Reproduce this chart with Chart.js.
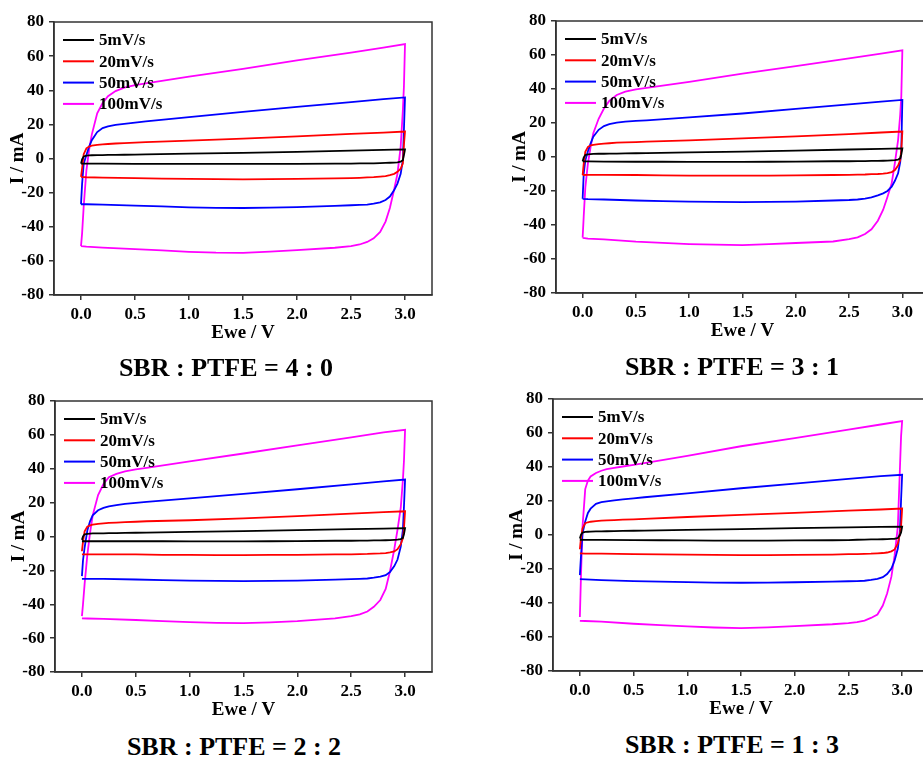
<!DOCTYPE html>
<html>
<head>
<meta charset="utf-8">
<title>CV curves - SBR : PTFE</title>
<script src="https://cdn.jsdelivr.net/npm/chart.js@4.4.0/dist/chart.umd.min.js"></script>
<style>
  html, body { margin: 0; padding: 0; background: #fff; width: 923px; height: 760px; overflow: hidden; position: relative; }
  .panel { position: absolute; }
  .ratio {
    position: absolute;
    transform: translate(-50%, -50%);
    font: bold 26px "Liberation Serif", "Times New Roman", serif;
    line-height: 1;
    white-space: nowrap;
    color: #000;
  }
</style>
</head>
<body>
<canvas id="cv40" class="panel" width="452" height="345" style="left:0px; top:0px"></canvas>
<canvas id="cv31" class="panel" width="447" height="343" style="left:502px; top:0px"></canvas>
<canvas id="cv22" class="panel" width="451" height="343" style="left:1px; top:379px"></canvas>
<canvas id="cv13" class="panel" width="450" height="344" style="left:499px; top:377px"></canvas>
<div id="title40" class="ratio" style="left:226px; top:368px"></div>
<div id="title31" class="ratio" style="left:732px; top:367px"></div>
<div id="title22" class="ratio" style="left:234px; top:747px"></div>
<div id="title13" class="ratio" style="left:732px; top:745px"></div>

<script>
// potentiel le long du cycle : balayage aller 0 -> 3 V (19 pts) puis retour 3 -> 0 V (23 pts)
const potential = [
  0, 0.01, 0.025, 0.05, 0.075, 0.1, 0.15, 0.2, 0.25, 0.32, 0.4, 0.5, 0.6, 1.0, 1.5, 2.0, 2.5, 2.8, 3.0,
  2.99, 2.98, 2.96, 2.93, 2.9, 2.86, 2.82, 2.77, 2.71, 2.65, 2.58, 2.5, 2.35, 2.0, 1.75, 1.5, 1.25, 1.0, 0.75, 0.5, 0.2, 0.05, 0.0
]
const scanRates = ["5mV/s", "20mV/s", "50mV/s", "100mV/s"]
const lineColors = ["#000000", "#ff0000", "#0000ff", "#ff00ff"]
const voltageTicks = [0, 0.5, 1, 1.5, 2, 2.5, 3]
const currentTicks = [-80, -60, -40, -20, 0, 20, 40, 60, 80]
const ratioTitles = ["SBR : PTFE = 4 : 0", "SBR : PTFE = 3 : 1", "SBR : PTFE = 2 : 2", "SBR : PTFE = 1 : 3"]

// courant (mA), SBR : PTFE = 4 : 0
const sbr40_5 = [-3, -0.5, 1.2, 1.7, 1.8, 1.9, 2, 2, 2.1, 2.1, 2.2, 2.3, 2.4, 2.9, 3.3, 3.9, 4.6, 5, 5.3,
  2, -1, -1.8, -2.3, -2.4, -2.5, -2.6, -2.7, -2.8, -2.9, -2.9, -3, -3, -3.1, -3.2, -3.2, -3.2, -3.2, -3.1, -3.1, -3, -3, -3]
const sbr40_20 = [-10.8, -6, 2.5, 6, 7, 7.5, 8, 8.3, 8.5, 8.8, 9, 9.3, 9.6, 10.5, 11.6, 13, 14.4, 15.2, 15.8,
  8, -2.9, -6, -7.8, -9, -9.8, -10.3, -10.6, -10.9, -11.1, -11.3, -11.5, -11.7, -12, -12.1, -12.2, -12.1, -12, -11.8, -11.5, -11.2, -11, -10.8]
const sbr40_50 = [-26.8, -15, -3, 2, 7, 10.7, 15.5, 17.8, 18.8, 19.7, 20.3, 21, 21.8, 24.3, 27.3, 30.2, 33, 34.8, 35.8,
  16.6, -1, -9, -14.7, -18.5, -22.3, -24.3, -25.7, -26.5, -27, -27.2, -27.4, -27.8, -28.5, -28.8, -29, -28.9, -28.6, -28.1, -27.6, -27, -26.8, -26.8]
const sbr40_100 = [-51.4, -44, -28, -7, 5, 14, 26.5, 32.5, 36.5, 39.5, 41.5, 43, 44, 48, 52.5, 57.5, 62, 65, 67,
  42, 28, 7, -9, -18, -29, -37, -43, -46.8, -48.9, -50.4, -51.4, -52.3, -53.7, -54.6, -55.3, -55.2, -54.7, -53.9, -53.1, -52.2, -51.7, -51.4]

// SBR : PTFE = 3 : 1
const sbr31_5 = [-2.5, -0.3, 1.2, 1.6, 1.7, 1.8, 1.9, 1.9, 2, 2, 2.1, 2.2, 2.3, 2.7, 3.2, 3.8, 4.4, 4.8, 5.1,
  1.5, -0.8, -1.5, -1.9, -2, -2.1, -2.2, -2.3, -2.3, -2.4, -2.4, -2.5, -2.5, -2.7, -2.8, -2.9, -2.9, -2.9, -2.8, -2.8, -2.7, -2.6, -2.5]
const sbr31_20 = [-10.6, -4, 3.1, 6, 6.8, 7.1, 7.6, 7.9, 8.1, 8.4, 8.6, 8.8, 9, 9.8, 10.9, 12.1, 13.5, 14.4, 15,
  4, -1.8, -5, -7.7, -8.9, -9.5, -9.8, -10, -10.1, -10.3, -10.4, -10.5, -10.6, -10.8, -10.9, -11, -11, -10.9, -10.8, -10.6, -10.5, -10.5, -10.6]
const sbr31_50 = [-24.6, -10, -2, 3.5, 8, 12, 16, 18.2, 19.3, 20.2, 20.8, 21.2, 21.6, 23.3, 25.6, 28.3, 31, 32.6, 33.6,
  4, -3, -9.6, -14, -17.5, -20, -21.4, -22.6, -23.8, -24.5, -25, -25.3, -25.6, -26.2, -26.4, -26.5, -26.4, -26.3, -26, -25.6, -25, -24.8, -24.6]
const sbr31_100 = [-47.4, -35, -18, -3.5, 6, 14, 22.5, 28.5, 33, 36.5, 38.5, 39.8, 40.7, 44.2, 49, 53.5, 58, 60.8, 62.7,
  35.6, 25, 10, -3.5, -15.5, -23.5, -31, -37.5, -42.5, -45.3, -47.3, -48.3, -49.7, -50.6, -51.3, -51.8, -51.6, -51.2, -50.5, -49.8, -48.5, -48, -47.6]

// SBR : PTFE = 2 : 2
const sbr22_5 = [-2, 0, 1.3, 1.6, 1.7, 1.8, 1.9, 1.9, 2, 2, 2.1, 2.2, 2.3, 2.7, 3.2, 3.8, 4.3, 4.7, 4.9,
  1.5, -0.8, -1.5, -1.9, -2, -2.1, -2.2, -2.3, -2.3, -2.4, -2.4, -2.5, -2.5, -2.7, -2.8, -2.9, -2.9, -2.9, -2.8, -2.8, -2.8, -2.8, -2.8]
const sbr22_20 = [-8.7, -3, 3, 5.8, 6.6, 7, 7.5, 7.8, 8, 8.2, 8.5, 8.7, 9, 9.6, 10.7, 12, 13.5, 14.4, 14.9,
  5, -1, -4.5, -7.5, -8.8, -9.4, -9.8, -10, -10.1, -10.3, -10.4, -10.5, -10.6, -10.8, -10.9, -11, -11, -10.9, -10.8, -10.6, -10.5, -10.5, -10.6]
const sbr22_50 = [-23.4, -14, -6.5, 3.5, 9, 12.5, 15.5, 16.9, 17.8, 18.5, 19.2, 19.9, 20.5, 22.5, 25.2, 27.9, 30.8, 32.6, 33.6,
  18, 4.1, -6, -13.6, -17.5, -21, -22.8, -23.7, -24.3, -24.8, -25, -25.2, -25.5, -26, -26.2, -26.3, -26.2, -26, -25.7, -25.4, -25, -25, -25]
const sbr22_100 = [-47, -40, -28, -11, 2, 12.5, 24.5, 31, 35, 37, 38.5, 39.6, 40.5, 44.3, 49, 53.8, 58.5, 61.5, 63,
  45, 33.6, 17, 4, -7.5, -20.5, -31, -37.5, -41.5, -44.3, -46, -47, -48.4, -50, -50.7, -51.1, -51, -50.6, -50, -49.3, -48.6, -48.4, -48.3]

// SBR : PTFE = 1 : 3
const sbr13_5 = [-2, 0, 1.4, 1.8, 1.9, 2, 2.1, 2.1, 2.2, 2.3, 2.4, 2.5, 2.6, 3, 3.5, 4, 4.5, 4.8, 4.9,
  1.5, 0, -1.8, -2.2, -2.3, -2.4, -2.5, -2.6, -2.6, -2.7, -2.8, -3, -3.1, -3.2, -3.3, -3.3, -3.3, -3.2, -3.1, -3, -2.9, -2.9, -2.8]
const sbr13_20 = [-8.4, -2, 4, 6.9, 7.5, 7.8, 8.2, 8.4, 8.6, 8.8, 9, 9.2, 9.5, 10.6, 11.8, 13, 14.3, 15, 15.6,
  5, 1, -4.9, -8.5, -9.6, -10.3, -10.6, -10.8, -11, -11.1, -11.2, -11.3, -11.5, -11.7, -11.8, -11.8, -11.7, -11.6, -11.4, -11.2, -11, -10.9, -10.8]
const sbr13_50 = [-23.6, -13, 1, 8, 13, 15.5, 18.3, 19.3, 19.8, 20.4, 21, 21.6, 22.2, 24.5, 27.5, 30.2, 33, 34.6, 35.4,
  20.6, 3, -8, -15, -19.8, -23, -24.8, -25.8, -26.4, -26.9, -27.1, -27.2, -27.4, -27.8, -28, -28.1, -28, -27.7, -27.4, -27.1, -26.5, -26.1, -26]
const sbr13_100 = [-48.2, -25, 5, 27, 32, 34.4, 36.5, 37.8, 38.7, 39.5, 40.3, 41.3, 42.3, 46.5, 52.2, 57, 62, 65, 67,
  58, 40.3, 5, -12, -24.5, -34.4, -41.5, -46.8, -48.8, -50.3, -51.2, -51.8, -52.5, -53.6, -54.3, -54.8, -54.4, -53.8, -53, -52.2, -51, -50.6, -50.5]

const panels = [
  { canvas: "cv40", title: "title40", padTop: 22, currents: [sbr40_5, sbr40_20, sbr40_50, sbr40_100] },
  { canvas: "cv31", title: "title31", padTop: 21, currents: [sbr31_5, sbr31_20, sbr31_50, sbr31_100] },
  { canvas: "cv22", title: "title22", padTop: 22, currents: [sbr22_5, sbr22_20, sbr22_50, sbr22_100] },
  { canvas: "cv13", title: "title13", padTop: 22, currents: [sbr13_5, sbr13_20, sbr13_50, sbr13_100] },
]

const serif = '"Liberation Serif", "Times New Roman", serif'
const tickFont = { family: serif, size: 17, weight: "bold" }
const axisTitleFont = { family: serif, size: 19, weight: "bold" }
const axisColor = "#333"

// cadre complet autour de la zone de tracé
const frameBox = {
  id: "frameBox",
  afterDatasetsDraw(chart) {
    const { ctx, chartArea } = chart
    ctx.save()
    ctx.strokeStyle = axisColor
    ctx.lineWidth = 1.5
    ctx.strokeRect(chartArea.left, chartArea.top, chartArea.right - chartArea.left, chartArea.bottom - chartArea.top)
    ctx.restore()
  },
}

// légende dans le coin haut gauche du graphe
const insetLegend = {
  id: "insetLegend",
  afterDatasetsDraw(chart) {
    const { ctx, chartArea } = chart
    ctx.save()
    ctx.font = `bold 17px ${serif}`
    ctx.textBaseline = "middle"
    chart.data.datasets.forEach((ds, k) => {
      const x = chartArea.left + 9
      const y = chartArea.top + 18 + k * 21.3
      ctx.strokeStyle = ds.borderColor
      ctx.lineWidth = 2
      ctx.beginPath()
      ctx.moveTo(x, y)
      ctx.lineTo(x + 31, y)
      ctx.stroke()
      ctx.fillStyle = "#000"
      ctx.fillText(ds.label, x + 36, y + 1)
    })
    ctx.restore()
  },
}

function makeChart(panel) {
  const datasets = panel.currents.map((values, k) => ({
    label: scanRates[k],
    data: potential.map((v, j) => ({ x: v, y: values[j] })),
    borderColor: lineColors[k],
    backgroundColor: lineColors[k],
    borderWidth: 1.8,
    showLine: true,
    pointRadius: 0,
    tension: 0,
  }))

  return new Chart(document.getElementById(panel.canvas), {
    type: "scatter",
    data: { datasets },
    options: {
      responsive: false,
      animation: false,
      events: [],
      layout: { padding: { top: panel.padTop, right: 20, bottom: 0, left: 0 } },
      plugins: { legend: { display: false }, tooltip: { enabled: false } },
      scales: {
        x: {
          type: "linear",
          min: -0.25,
          max: 3.25,
          afterBuildTicks: (axis) => {
            axis.ticks = voltageTicks.map((value) => ({ value }))
          },
          afterFit: (axis) => {
            axis.height = 50
          },
          ticks: {
            callback: (value) => Number(value).toFixed(1),
            color: "#000",
            font: tickFont,
            padding: 4,
            maxRotation: 0,
            autoSkip: false,
          },
          grid: { drawOnChartArea: false, tickLength: 5, color: axisColor, lineWidth: 1.5 },
          border: { color: axisColor, width: 1.5 },
          title: { display: true, text: "Ewe / V", color: "#000", font: axisTitleFont, padding: { top: 0, bottom: 1 } },
        },
        y: {
          type: "linear",
          min: -80,
          max: 80,
          afterBuildTicks: (axis) => {
            axis.ticks = currentTicks.map((value) => ({ value }))
          },
          afterFit: (axis) => {
            axis.width = 54
          },
          ticks: {
            callback: (value) => String(value),
            color: "#000",
            font: tickFont,
            padding: 5,
            autoSkip: false,
          },
          grid: { drawOnChartArea: false, tickLength: 5, color: axisColor, lineWidth: 1.5 },
          border: { color: axisColor, width: 1.5 },
          title: { display: true, text: "I / mA", color: "#000", font: axisTitleFont, padding: { top: 7, bottom: 0 } },
        },
      },
    },
    plugins: [frameBox, insetLegend],
  })
}

panels.forEach((panel, i) => {
  document.getElementById(panel.title).textContent = ratioTitles[i]
  makeChart(panel)
})
</script>
</body>
</html>
